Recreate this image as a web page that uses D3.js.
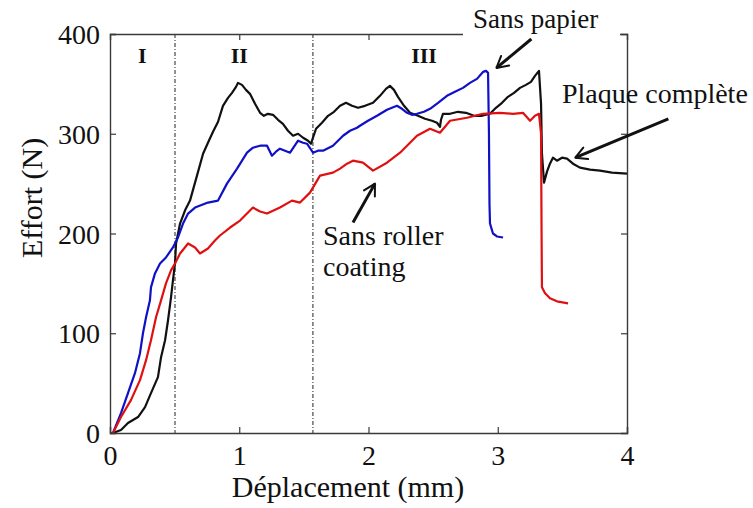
<!DOCTYPE html>
<html>
<head>
<meta charset="utf-8">
<script src="https://cdn.jsdelivr.net/npm/d3@7"></script>
<style>
  html, body { margin: 0; padding: 0; background: #fff; }
  svg { display: block; }
  text { font-family: "Liberation Serif", "Times New Roman", serif; fill: #111; }
</style>
</head>
<body>
<svg id="chart" width="753" height="508"></svg>
<script>
// ---- Data (displacement in mm, force in N) ----
const plaqueX = [0,0.023,0.085,0.139,0.217,0.271,0.317,0.371,0.395,0.426,0.449,0.472,0.487,0.503,0.511,0.542,0.580,0.619,0.673,0.720,0.758,0.797,0.836,0.874,0.913,0.944,0.975,0.990,1.021,1.052,1.083,1.122,1.161,1.191,1.222,1.261,1.300,1.338,1.377,1.416,1.455,1.494,1.532,1.555,1.594,1.640,1.687,1.733,1.780,1.826,1.872,1.919,1.973,2.035,2.089,2.135,2.166,2.197,2.228,2.275,2.321,2.383,2.437,2.491,2.530,2.553,2.561,2.576,2.631,2.692,2.754,2.816,2.878,2.940,2.986,3.033,3.079,3.126,3.172,3.218,3.257,3.288,3.319,3.335,3.342,3.358,3.381,3.404,3.427,3.458,3.497,3.536,3.582,3.636,3.714,3.791,3.884,4.0];
const plaqueY = [0,0,3,10,16,26,40,56,76,93,113,136,153,170,190,210,223,233,258,280,291,302,312,328,336,341,347,351,349,344,340,330,321,318,320,319,314,310,303,298,300,296,293,290,305,311,318,322,328,331,328,326,328,331,338,345,348,344,337,328,321,318,315,313,311,307,314,320,320,322,321,318,318,320,326,331,337,341,346,349,352,358,363,330,280,251,262,270,276,273,276,275,270,266,264,263,261,260];

const papierX = [0,0.023,0.085,0.139,0.193,0.232,0.255,0.279,0.309,0.317,0.348,0.387,0.433,0.487,0.526,0.565,0.604,0.658,0.758,0.836,0.905,0.983,1.060,1.106,1.161,1.215,1.253,1.284,1.315,1.354,1.393,1.455,1.494,1.524,1.571,1.609,1.648,1.725,1.803,1.857,1.911,1.934,1.996,2.066,2.143,2.220,2.259,2.298,2.336,2.375,2.429,2.476,2.538,2.607,2.669,2.731,2.785,2.839,2.886,2.909,2.925,2.932,2.936,2.940,2.963,2.994,3.041];
const papierY = [0,0,20,40,60,80,100,116,133,146,160,170,176,186,196,210,220,226,231,233,250,265,281,286,288,288,278,282,285,283,281,293,291,290,281,283,283,288,298,303,306,308,313,318,324,328,325,321,319,320,322,325,331,338,342,346,351,355,362,363,361,300,230,210,200,197,196];

const rollerX = [0,0.023,0.085,0.162,0.232,0.279,0.317,0.356,0.395,0.433,0.472,0.503,0.542,0.604,0.658,0.696,0.758,0.812,0.851,0.929,1.006,1.106,1.161,1.215,1.315,1.408,1.470,1.547,1.625,1.725,1.780,1.834,1.880,1.957,2.035,2.143,2.244,2.375,2.476,2.553,2.631,2.762,2.886,3.017,3.118,3.195,3.250,3.288,3.319,3.335,3.339,3.342,3.366,3.404,3.458,3.544];
const rollerY = [0,0,16,33,53,73,93,116,133,150,163,170,180,190,186,180,185,193,198,206,213,226,222,220,226,233,231,241,258,261,265,270,273,271,263,271,281,298,305,301,313,316,320,321,320,321,313,318,320,300,200,146,140,135,132,130];

const xTicks = [0, 1, 2, 3, 4];
const yTicks = [0, 100, 200, 300, 400];
const phaseBounds = [0.503, 1.57];
const phaseLabels = ["I", "II", "III"];
const phaseLabelX = [0.25, 1.0, 2.43];
const seriesNames = ["Plaque complète", "Sans papier", "Sans roller coating"];
const seriesColors = ["#111111", "#1010c8", "#e01010"];

// ---- Layout ----
const svg = d3.select("#chart");
const L = 110, R = 627, T = 34, B = 433;
const x = d3.scaleLinear().domain([0, 4]).range([L, R]);
const y = d3.scaleLinear().domain([0, 400]).range([B, T]);
const axisColor = "#3a3a3a";

// phase separators (dash-dot)
svg.selectAll("line.phase").data(phaseBounds).enter().append("line")
  .attr("x1", d => x(d)).attr("x2", d => x(d))
  .attr("y1", T).attr("y2", B)
  .attr("stroke", "#222").attr("stroke-width", 1)
  .attr("stroke-dasharray", "4,2,1,2");

// series
const line = d3.line().x(d => x(d[0])).y(d => y(d[1]));
const series = [
  d3.zip(plaqueX, plaqueY),
  d3.zip(papierX, papierY),
  d3.zip(rollerX, rollerY)
];
// draw order: black, blue, red
[0, 1, 2].forEach(i => {
  svg.append("path").datum(series[i])
    .attr("d", line)
    .attr("fill", "none")
    .attr("stroke", seriesColors[i])
    .attr("stroke-width", 2.2)
    .attr("stroke-linejoin", "round");
});

// axes (box with inward ticks)
const gBottom = svg.append("g").attr("transform", `translate(0,${B})`)
  .call(d3.axisBottom(x).tickValues(xTicks).tickSize(-6).tickPadding(12).tickFormat(d3.format("d")));
const gTop = svg.append("g").attr("transform", `translate(0,${T})`)
  .call(d3.axisTop(x).tickValues(xTicks.slice(1, 4)).tickSize(-6).tickFormat(""));
const gLeft = svg.append("g").attr("transform", `translate(${L},0)`)
  .call(d3.axisLeft(y).tickValues(yTicks).tickSize(-6).tickPadding(10).tickFormat(d3.format("d")));
const gRight = svg.append("g").attr("transform", `translate(${R},0)`)
  .call(d3.axisRight(y).tickValues(yTicks.slice(1, 4)).tickSize(-6).tickFormat(""));
[gBottom, gTop, gLeft, gRight].forEach(g => {
  g.select(".domain").attr("stroke", axisColor).attr("stroke-width", 1.4);
  g.selectAll(".tick line").attr("stroke", axisColor).attr("stroke-width", 1.2);
  g.selectAll(".tick text").attr("fill", "#1a1a1a")
    .style("font-family", '"Liberation Serif", "Times New Roman", serif')
    .style("font-size", "28px");
});
gLeft.selectAll(".tick text").attr("dy", "0.34em");
gBottom.selectAll(".tick text").attr("dy", "0.71em");

// axis titles
svg.append("text").attr("x", 348).attr("y", 497)
  .attr("text-anchor", "middle").style("font-size", "30px")
  .text("Déplacement (mm)");
svg.append("text").attr("transform", "translate(42,198) rotate(-90)")
  .attr("text-anchor", "middle").style("font-size", "30px")
  .text("Effort (N)");

// phase labels
svg.selectAll("text.phase").data(phaseLabels).enter().append("text")
  .attr("x", (d, i) => x(phaseLabelX[i])).attr("y", 63)
  .attr("text-anchor", "middle")
  .style("font-size", "22px").style("font-weight", "bold")
  .text(d => d);

// arrow marker
const defs = svg.append("defs");
defs.append("marker").attr("id", "arr")
  .attr("viewBox", "0 0 12 12").attr("refX", 10).attr("refY", 6)
  .attr("markerWidth", 5).attr("markerHeight", 5)
  .attr("markerUnits", "strokeWidth")
  .attr("orient", "auto")
  .append("path").attr("d", "M1,1 L10,6 L1,11")
  .attr("fill", "none").attr("stroke", "#111").attr("stroke-width", 1.6)
  .attr("stroke-linecap", "round").attr("stroke-linejoin", "round");

function arrow(x1, y1, x2, y2) {
  svg.append("line")
    .attr("x1", x(x1)).attr("y1", y(y1)).attr("x2", x(x2)).attr("y2", y(y2))
    .attr("stroke", "#111").attr("stroke-width", 3)
    .attr("marker-end", "url(#arr)");
}

// "Sans papier" label with white background over the top border
svg.append("rect").attr("x", 463).attr("y", 26).attr("width", 157).attr("height", 14).attr("fill", "#fff");
svg.append("text").attr("x", 473).attr("y", 28).style("font-size", "27px").text("Sans papier");
arrow(3.26, 395, 2.99, 366);

// "Plaque complète"
svg.append("text").attr("x", 562).attr("y", 103).style("font-size", "28px").text(seriesNames[0]);
arrow(4.32, 315, 3.60, 276);

// "Sans roller coating"
svg.append("text").attr("x", 323).attr("y", 245).style("font-size", "28px").text("Sans roller");
svg.append("text").attr("x", 323).attr("y", 276).style("font-size", "28px").text("coating");
arrow(1.88, 211, 2.05, 250);
</script>
</body>
</html>
